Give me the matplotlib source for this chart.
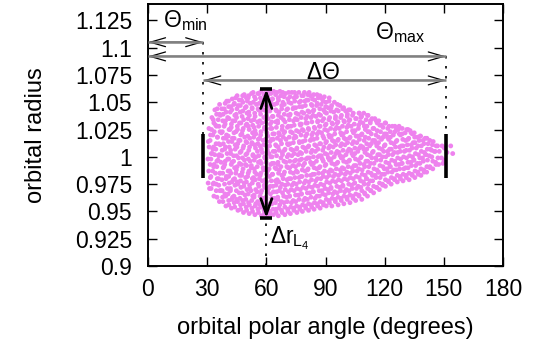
import numpy as np
import matplotlib
matplotlib.use("Agg")
import matplotlib.pyplot as plt
from matplotlib.ticker import FormatStrFormatter

plt.rcParams['font.family'] = 'Liberation Sans'
plt.rcParams['mathtext.fontset'] = 'custom'
plt.rcParams['mathtext.rm'] = 'Liberation Sans'
plt.rcParams['mathtext.it'] = 'Liberation Sans'
plt.rcParams['mathtext.bf'] = 'Liberation Sans:bold'

x_ticks = [0, 30, 60, 90, 120, 150, 180]
y_ticks = [0.9, 0.925, 0.95, 0.975, 1.0, 1.025, 1.05, 1.075, 1.1, 1.125]

# angular extent of the swarm and radial width at L4
theta_min = 28
theta_max = 151
theta_L4 = 60
r_L4_low = 0.944
r_L4_high = 1.062
bar_low = 0.981
bar_high = 1.021
arrow_min_y = 1.105
arrow_max_y = 1.092
arrow_delta_y = 1.070

# (polar angle in degrees, orbital radius)
swarm_a = [
    (31.2,0.971),(30.5,0.976),(31.9,0.982),(30.8,0.987),(31.5,0.993),(30.4,0.998),(32.1,1.003),(31.0,1.009),(30.6,1.014),(31.7,1.020),(30.9,1.026),
    (33.4,0.964),(34.6,0.969),(33.0,0.975),(35.1,0.980),(34.2,0.985),(33.3,0.991),(34.9,0.996),(33.8,1.002),(32.9,1.007),(34.5,1.012),(35.2,1.018),(33.6,1.023),(34.3,1.029),(33.1,1.034),(34.8,1.039),(33.9,1.043),
    (36.2,0.959),(37.8,0.963),(36.9,0.969),(35.9,0.974),(37.5,0.979),(36.4,0.985),(38.1,0.990),(37.0,0.995),(35.8,1.001),(37.6,1.006),(36.6,1.011),(38.2,1.017),(37.2,1.022),(36.0,1.028),(37.9,1.033),(36.7,1.038),(37.4,1.044),(36.3,1.048),
    (39.5,0.955),(40.9,0.960),(39.0,0.966),(40.3,0.971),(41.2,0.976),(39.7,0.982),(40.6,0.987),(38.9,0.993),(41.0,0.998),(40.1,1.003),(39.3,1.009),(40.8,1.014),(39.8,1.020),(41.1,1.025),(39.1,1.030),(40.4,1.036),(39.6,1.041),(40.9,1.046),(39.9,1.051),
    (42.3,0.953),(43.7,0.958),(42.9,0.963),(41.8,0.969),(44.1,0.974),(43.2,0.979),(42.0,0.985),(43.9,0.990),(42.6,0.995),(43.4,1.001),(41.9,1.006),(44.2,1.011),(42.8,1.017),(43.6,1.022),(42.2,1.027),(43.0,1.033),(44.0,1.038),(42.5,1.043),(43.5,1.048),(42.7,1.053),
    (45.6,0.951),(46.9,0.956),(44.9,0.961),(46.2,0.967),(47.1,0.972),(45.3,0.977),(46.5,0.983),(44.8,0.988),(47.2,0.993),(45.9,0.999),(46.7,1.004),(45.1,1.009),(46.0,1.015),(47.0,1.020),(45.4,1.025),(46.4,1.031),(44.9,1.036),(46.8,1.041),(45.7,1.047),(46.3,1.052),(45.2,1.056),
    (48.4,0.949),(49.8,0.954),(48.0,0.960),(49.2,0.965),(50.2,0.970),(48.7,0.976),(49.5,0.981),(47.8,0.986),(50.0,0.992),(48.9,0.997),(49.6,1.002),(48.2,1.008),(50.1,1.013),(49.0,1.018),(47.9,1.024),(49.7,1.029),(48.5,1.034),(50.2,1.040),(49.3,1.045),(48.1,1.050),(49.9,1.054),(48.8,1.057),
    (51.3,0.948),(52.7,0.953),(51.0,0.958),(53.1,0.964),(52.2,0.969),(51.5,0.974),(52.9,0.980),(50.8,0.985),(52.4,0.990),(51.8,0.996),(53.2,1.001),(51.1,1.006),(52.6,1.012),(51.6,1.017),(53.0,1.022),(50.9,1.028),(52.3,1.033),(51.4,1.038),(52.8,1.044),(51.9,1.049),(50.8,1.054),(52.5,1.058),
    (54.2,0.947),(55.8,0.952),(54.6,0.957),(53.8,0.963),(55.3,0.968),(56.2,0.973),(54.4,0.979),(55.1,0.984),(53.9,0.989),(56.0,0.995),(54.8,1.000),(55.5,1.005),(54.0,1.011),(55.9,1.016),(54.7,1.021),(53.8,1.027),(55.6,1.032),(54.3,1.037),(56.1,1.043),(55.0,1.048),(54.5,1.053),(55.7,1.058),
    (57.5,0.946),(58.9,0.951),(56.8,0.956),(58.3,0.962),(57.2,0.967),(59.1,0.972),(57.9,0.978),(56.9,0.983),(58.6,0.988),(57.4,0.994),(59.2,0.999),(58.0,1.004),(56.8,1.010),(58.4,1.015),(57.1,1.020),(59.0,1.026),(57.7,1.031),(58.7,1.036),(56.9,1.042),(58.2,1.047),(57.6,1.052),(58.8,1.057),(57.3,1.060),
    (60.3,0.946),(61.8,0.950),(60.9,0.955),(59.8,0.961),(62.1,0.966),(61.2,0.971),(60.0,0.977),(61.6,0.982),(60.6,0.987),(62.2,0.993),(59.9,0.998),(61.4,1.003),(60.4,1.009),(61.9,1.014),(60.8,1.019),(59.7,1.025),(62.0,1.030),(61.0,1.035),(60.2,1.041),(61.5,1.046),(62.2,1.051),(60.7,1.056),(61.3,1.060),
    (63.6,0.947),(64.9,0.952),(62.8,0.957),(64.2,0.962),(65.2,0.968),(63.3,0.973),(64.6,0.978),(63.0,0.984),(65.0,0.989),(63.8,0.994),(62.9,1.000),(64.4,1.005),(65.1,1.010),(63.5,1.016),(64.0,1.021),(62.8,1.026),(64.8,1.032),(63.4,1.037),(65.2,1.042),(64.1,1.048),(63.1,1.053),(64.7,1.057),(63.7,1.060),
    (66.1,0.946),(67.7,0.951),(66.8,0.956),(65.8,0.961),(68.2,0.967),(67.1,0.972),(66.3,0.977),(67.9,0.983),(66.6,0.988),(65.9,0.993),(67.4,0.999),(68.1,1.004),(66.0,1.009),(67.2,1.015),(66.7,1.020),(68.0,1.025),(65.8,1.031),(67.5,1.036),(66.4,1.041),(67.8,1.047),(66.2,1.052),(67.3,1.056),(66.9,1.060),
    (69.4,0.947),(70.8,0.952),(69.0,0.958),(70.2,0.963),(71.2,0.968),(69.6,0.974),(70.5,0.979),(68.8,0.984),(71.0,0.990),(69.9,0.995),(70.6,1.000),(69.2,1.006),(71.1,1.011),(70.0,1.016),(68.9,1.022),(70.7,1.027),(69.5,1.032),(71.2,1.038),(70.3,1.043),(69.1,1.048),(70.9,1.053),(69.7,1.058),
    (72.2,0.948),(73.9,0.953),(72.7,0.958),(71.8,0.964),(74.1,0.969),(73.0,0.974),(72.4,0.980),(73.7,0.985),(71.9,0.990),(74.2,0.996),(72.9,1.001),(73.4,1.006),(72.0,1.012),(74.0,1.017),(73.2,1.022),(72.5,1.028),(73.8,1.033),(71.8,1.038),(73.5,1.044),(72.6,1.049),(74.1,1.054),(72.9,1.059),
    (75.5,0.949),(76.9,0.954),(74.9,0.959),(76.3,0.965),(77.2,0.970),(75.2,0.975),(76.6,0.981),(75.8,0.986),(74.8,0.991),(77.0,0.997),(76.1,1.002),(75.4,1.007),(76.8,1.013),(75.0,1.018),(76.4,1.023),(77.3,1.029),(75.7,1.034),(76.2,1.039),(74.9,1.045),(76.7,1.050),(75.3,1.055),(76.5,1.059),
    (78.3,0.950),(79.8,0.955),(78.9,0.960),(77.8,0.966),(80.1,0.971),(79.2,0.976),(78.1,0.982),(79.6,0.987),(78.6,0.992),(80.2,0.998),(77.9,1.003),(79.4,1.008),(78.4,1.014),(79.9,1.019),(78.8,1.024),(77.7,1.030),(80.0,1.035),(79.0,1.040),(78.2,1.046),(79.5,1.051),(78.7,1.056),(79.3,1.059),
    (81.4,0.951),(82.8,0.956),(80.8,0.961),(82.1,0.967),(83.2,0.972),(81.6,0.977),(82.5,0.983),(80.9,0.988),(83.0,0.993),(81.9,0.999),(82.7,1.004),(81.1,1.009),(82.3,1.015),(83.1,1.020),(81.5,1.025),(80.8,1.031),(82.6,1.036),(81.8,1.041),(83.2,1.047),(81.2,1.052),(82.4,1.056),(81.7,1.059),
    (84.2,0.952),(85.9,0.957),(84.7,0.962),(83.8,0.968),(86.1,0.973),(85.0,0.978),(84.4,0.984),(85.6,0.989),(83.9,0.994),(86.2,1.000),(84.9,1.005),(85.3,1.010),(84.0,1.016),(85.8,1.021),(84.6,1.026),(86.0,1.032),(85.2,1.037),(83.8,1.042),(85.5,1.047),(84.5,1.052),(85.7,1.057),
    (87.3,0.953),(88.8,0.958),(86.9,0.964),(88.2,0.969),(89.1,0.974),(87.6,0.980),(88.5,0.985),(86.8,0.990),(88.9,0.996),(87.9,1.001),(88.6,1.006),(87.1,1.012),(89.2,1.017),(88.0,1.022),(86.9,1.028),(88.4,1.033),(87.5,1.038),(89.0,1.043),(87.8,1.048),(88.3,1.053),(87.2,1.056),
    (90.4,0.955),(91.8,0.960),(89.9,0.965),(91.2,0.970),(92.2,0.976),(90.6,0.981),(91.5,0.986),(89.8,0.992),(92.0,0.997),(90.9,1.002),(91.6,1.008),(90.1,1.013),(92.1,1.018),(91.0,1.024),(89.9,1.029),(91.7,1.034),(90.5,1.040),(91.3,1.045),(90.2,1.050),(91.9,1.054),
    (93.2,0.955),(94.9,0.961),(93.7,0.966),(92.8,0.971),(95.1,0.977),(94.0,0.982),(93.4,0.987),(94.6,0.993),(92.9,0.998),(95.2,1.003),(93.9,1.009),(94.3,1.014),(93.0,1.019),(94.8,1.025),(93.6,1.030),(95.0,1.035),(94.2,1.041),(92.8,1.045),(94.5,1.050),
    (96.4,0.956),(97.8,0.962),(95.9,0.967),(97.2,0.972),(98.1,0.978),(96.6,0.983),(97.5,0.988),(95.8,0.994),(98.0,0.999),(96.9,1.004),(97.6,1.010),(96.1,1.015),(98.2,1.020),(97.0,1.026),(95.9,1.031),(97.7,1.036),(96.5,1.042),(97.3,1.047),
    (99.3,0.957),(100.9,0.963),(99.7,0.968),(98.8,0.973),(101.1,0.979),(100.0,0.984),(99.4,0.989),(100.6,0.995),(98.9,1.000),(101.2,1.005),(99.9,1.011),(100.3,1.016),(99.0,1.021),(100.8,1.027),(99.6,1.032),(101.0,1.037),(100.2,1.042),(99.2,1.045),
    (102.4,0.958),(103.8,0.964),(101.9,0.969),(103.2,0.974),(104.1,0.980),(102.6,0.985),(103.5,0.990),(101.8,0.996),(104.0,1.001),(102.9,1.006),(103.6,1.012),(102.1,1.017),(104.2,1.022),(103.0,1.028),(101.9,1.033),(103.7,1.038),(102.5,1.043),
    (105.3,0.960),(106.9,0.965),(105.7,0.971),(104.8,0.976),(107.1,0.981),(106.0,0.987),(105.4,0.992),(106.6,0.997),(104.9,1.003),(107.2,1.008),(105.9,1.013),(106.3,1.019),(105.0,1.024),(106.8,1.029),(105.6,1.035),(107.0,1.040),
    (108.4,0.961),(109.8,0.967),(107.9,0.972),(109.2,0.977),(110.1,0.983),(108.6,0.988),(109.5,0.993),(107.8,0.999),(110.0,1.004),(108.9,1.009),(109.6,1.015),(108.1,1.020),(110.2,1.025),(109.0,1.031),(107.9,1.036),(109.4,1.040),
    (111.3,0.964),(112.9,0.969),(111.7,0.975),(110.8,0.980),(113.1,0.985),(112.0,0.991),(111.4,0.996),(112.6,1.001),(110.9,1.007),(113.2,1.012),(111.9,1.017),(112.3,1.023),(111.0,1.028),(112.8,1.033),(111.6,1.038),
    (114.4,0.967),(115.8,0.972),(113.9,0.978),(115.2,0.983),(116.1,0.988),(114.6,0.994),(115.5,0.999),(113.8,1.004),(116.0,1.010),(114.9,1.015),(115.6,1.020),(114.1,1.026),(116.2,1.031),(115.0,1.035),
    (117.3,0.970),(118.9,0.975),(117.7,0.981),(116.8,0.986),(119.1,0.991),(118.0,0.997),(117.4,1.002),(118.6,1.007),(116.9,1.013),(119.2,1.018),(117.9,1.023),(118.3,1.029),(117.0,1.033),
    (120.4,0.973),(121.8,0.978),(119.9,0.984),(121.2,0.989),(122.1,0.994),(120.6,1.000),(121.5,1.005),(119.8,1.010),(122.0,1.016),(120.9,1.021),(121.6,1.026),(120.2,1.031),
    (123.3,0.975),(124.9,0.980),(123.7,0.986),(122.8,0.991),(125.1,0.996),(124.0,1.002),(123.4,1.007),(124.6,1.012),(122.9,1.018),(125.2,1.023),(123.9,1.028),
    (126.4,0.977),(127.8,0.982),(125.9,0.988),(127.2,0.993),(128.1,0.998),(126.6,1.004),(127.5,1.009),(125.8,1.014),(128.0,1.020),(126.9,1.025),(127.3,1.028),
    (129.3,0.978),(130.9,0.983),(129.7,0.989),(128.8,0.994),(131.1,0.999),(130.0,1.005),(129.4,1.010),(130.6,1.015),(128.9,1.021),(131.2,1.025),
    (132.4,0.979),(133.8,0.984),(131.9,0.990),(133.2,0.995),(134.1,1.000),(132.6,1.006),(133.5,1.011),(131.8,1.016),(134.0,1.021),(132.9,1.024),
    (135.3,0.981),(136.9,0.986),(135.7,0.992),(134.8,0.997),(137.1,1.002),(136.0,1.008),(135.4,1.013),(136.6,1.018),(135.0,1.022),
    (138.4,0.983),(139.8,0.988),(137.9,0.994),(139.2,0.999),(140.1,1.004),(138.6,1.010),(139.5,1.015),(138.0,1.019),
    (141.3,0.986),(142.9,0.991),(141.7,0.997),(140.8,1.002),(143.1,1.007),(142.0,1.012),(141.4,1.017),
    (144.4,0.989),(145.8,0.995),(143.9,1.000),(145.2,1.005),(146.1,1.010),(144.6,1.014),
    (147.3,0.993),(148.8,0.999),(147.7,1.005),(149.1,1.010),
    (150.2,0.997),(151.6,1.004),
    (154.5,1.003),(153.5,1.010),
]

# second pass of points, sitting between the rows of the first
swarm_b = [
    (32.0,0.971),(33.3,0.976),(31.6,0.981),(32.8,0.987),(33.5,0.993),(31.9,0.998),(32.6,1.003),(33.2,1.009),(31.5,1.015),(32.9,1.020),(32.2,1.025),(33.4,1.031),(32.4,1.036),
    (35.0,0.963),(36.4,0.969),(34.6,0.975),(35.8,0.980),(36.6,0.985),(34.9,0.991),(35.5,0.997),(36.2,1.002),(34.4,1.007),(35.9,1.012),(35.2,1.018),(36.5,1.023),(34.7,1.028),(35.6,1.034),(36.3,1.039),(35.1,1.044),
    (38.0,0.959),(39.4,0.964),(37.6,0.969),(38.8,0.975),(39.6,0.980),(37.9,0.985),(38.5,0.991),(39.2,0.996),(37.4,1.001),(38.9,1.007),(38.2,1.012),(39.5,1.017),(37.7,1.023),(38.6,1.028),(39.3,1.033),(38.1,1.039),(38.7,1.044),(39.1,1.049),
    (41.0,0.956),(42.4,0.961),(40.6,0.966),(41.8,0.971),(42.6,0.977),(40.9,0.982),(41.5,0.987),(42.2,0.993),(40.4,0.998),(41.9,1.003),(41.2,1.009),(42.5,1.014),(40.7,1.019),(41.6,1.025),(42.3,1.030),(41.1,1.035),(41.7,1.041),(42.1,1.046),(40.8,1.051),
    (44.0,0.954),(45.4,0.959),(43.6,0.964),(44.8,0.969),(45.6,0.975),(43.9,0.980),(44.5,0.985),(45.2,0.991),(43.4,0.996),(44.9,1.001),(44.2,1.007),(45.5,1.012),(43.7,1.017),(44.6,1.023),(45.3,1.028),(44.1,1.033),(44.7,1.039),(45.1,1.044),(43.8,1.049),(44.4,1.054),
    (47.0,0.952),(48.4,0.957),(46.6,0.962),(47.8,0.967),(48.6,0.973),(46.9,0.978),(47.5,0.983),(48.2,0.989),(46.4,0.994),(47.9,0.999),(47.2,1.005),(48.5,1.010),(46.7,1.015),(47.6,1.021),(48.3,1.026),(47.1,1.031),(47.7,1.037),(48.1,1.042),(46.8,1.047),(47.4,1.052),(48.0,1.056),
    (50.0,0.951),(51.4,0.956),(49.6,0.961),(50.8,0.966),(51.6,0.971),(49.9,0.977),(50.5,0.982),(51.2,0.987),(49.4,0.993),(50.9,0.998),(50.2,1.003),(51.5,1.009),(49.7,1.014),(50.6,1.019),(51.3,1.025),(50.1,1.030),(50.7,1.035),(51.1,1.041),(49.8,1.046),(50.4,1.051),(51.0,1.056),
    (53.0,0.950),(54.4,0.955),(52.6,0.960),(53.8,0.965),(54.6,0.970),(52.9,0.976),(53.5,0.981),(54.2,0.986),(52.4,0.992),(53.9,0.997),(53.2,1.002),(54.5,1.008),(52.7,1.013),(53.6,1.018),(54.3,1.024),(53.1,1.029),(53.7,1.034),(54.1,1.040),(52.8,1.045),(53.4,1.050),(54.0,1.055),(53.3,1.059),
    (56.0,0.949),(57.4,0.954),(55.6,0.959),(56.8,0.964),(57.6,0.969),(55.9,0.975),(56.5,0.980),(57.2,0.985),(55.4,0.991),(56.9,0.996),(56.2,1.001),(57.5,1.007),(55.7,1.012),(56.6,1.017),(57.3,1.023),(56.1,1.028),(56.7,1.033),(57.1,1.039),(55.8,1.044),(56.4,1.049),(57.0,1.054),(56.3,1.058),
    (59.0,0.948),(60.4,0.953),(58.6,0.958),(59.8,0.963),(60.6,0.968),(58.9,0.974),(59.5,0.979),(60.2,0.984),(58.4,0.990),(59.9,0.995),(59.2,1.000),(60.5,1.006),(58.7,1.011),(59.6,1.016),(60.3,1.022),(59.1,1.027),(59.7,1.032),(60.1,1.038),(58.8,1.043),(59.4,1.048),(60.0,1.053),(59.3,1.058),
    (62.0,0.948),(63.4,0.952),(61.6,0.957),(62.8,0.962),(63.6,0.968),(61.9,0.973),(62.5,0.978),(63.2,0.984),(61.4,0.989),(62.9,0.994),(62.2,1.000),(63.5,1.005),(61.7,1.010),(62.6,1.016),(63.3,1.021),(62.1,1.026),(62.7,1.032),(63.1,1.037),(61.8,1.042),(62.4,1.048),(63.0,1.053),(62.3,1.058),
    (65.0,0.949),(66.4,0.953),(64.6,0.958),(65.8,0.963),(66.6,0.969),(64.9,0.974),(65.5,0.979),(66.2,0.985),(64.4,0.990),(65.9,0.995),(65.2,1.001),(66.5,1.006),(64.7,1.011),(65.6,1.017),(66.3,1.022),(65.1,1.027),(65.7,1.033),(66.1,1.038),(64.8,1.043),(65.4,1.049),(66.0,1.054),(65.3,1.059),
    (68.0,0.949),(69.4,0.954),(67.6,0.959),(68.8,0.964),(69.6,0.970),(67.9,0.975),(68.5,0.980),(69.2,0.986),(67.4,0.991),(68.9,0.996),(68.2,1.002),(69.5,1.007),(67.7,1.012),(68.6,1.018),(69.3,1.023),(68.1,1.028),(68.7,1.034),(69.1,1.039),(67.8,1.044),(68.4,1.050),(69.0,1.055),(68.3,1.059),
    (71.0,0.950),(72.4,0.954),(70.6,0.959),(71.8,0.964),(72.6,0.970),(70.9,0.975),(71.5,0.980),(72.2,0.986),(70.4,0.991),(71.9,0.996),(71.2,1.002),(72.5,1.007),(70.7,1.012),(71.6,1.018),(72.3,1.023),(71.1,1.028),(71.7,1.034),(72.1,1.039),(70.8,1.044),(71.4,1.050),(72.0,1.055),(71.3,1.059),
    (74.0,0.951),(75.4,0.955),(73.6,0.960),(74.8,0.965),(75.6,0.971),(73.9,0.976),(74.5,0.981),(75.2,0.987),(73.4,0.992),(74.9,0.997),(74.2,1.003),(75.5,1.008),(73.7,1.013),(74.6,1.019),(75.3,1.024),(74.1,1.029),(74.7,1.035),(75.1,1.040),(73.8,1.045),(74.4,1.051),(75.0,1.056),(74.3,1.059),
    (77.0,0.952),(78.4,0.956),(76.6,0.961),(77.8,0.966),(78.6,0.972),(76.9,0.977),(77.5,0.982),(78.2,0.988),(76.4,0.993),(77.9,0.998),(77.2,1.004),(78.5,1.009),(76.7,1.014),(77.6,1.020),(78.3,1.025),(77.1,1.030),(77.7,1.036),(78.1,1.041),(76.8,1.046),(77.4,1.051),(78.0,1.056),
    (80.0,0.953),(81.4,0.957),(79.6,0.962),(80.8,0.967),(81.6,0.973),(79.9,0.978),(80.5,0.983),(81.2,0.989),(79.4,0.994),(80.9,0.999),(80.2,1.005),(81.5,1.010),(79.7,1.015),(80.6,1.021),(81.3,1.026),(80.1,1.031),(80.7,1.037),(81.1,1.042),(79.8,1.047),(80.4,1.052),(81.0,1.057),
    (83.0,0.954),(84.4,0.958),(82.6,0.963),(83.8,0.968),(84.6,0.974),(82.9,0.979),(83.5,0.984),(84.2,0.990),(82.4,0.995),(83.9,1.000),(83.2,1.006),(84.5,1.011),(82.7,1.016),(83.6,1.022),(84.3,1.027),(83.1,1.032),(83.7,1.038),(84.1,1.043),(82.8,1.048),(83.4,1.053),(84.0,1.057),
    (86.0,0.955),(87.4,0.959),(85.6,0.964),(86.8,0.969),(87.6,0.975),(85.9,0.980),(86.5,0.985),(87.2,0.991),(85.4,0.996),(86.9,1.001),(86.2,1.007),(87.5,1.012),(85.7,1.017),(86.6,1.023),(87.3,1.028),(86.1,1.033),(86.7,1.039),(87.1,1.044),(85.8,1.049),(86.4,1.054),
    (89.0,0.956),(90.4,0.961),(88.6,0.966),(89.8,0.971),(90.6,0.977),(88.9,0.982),(89.5,0.987),(90.2,0.993),(88.4,0.998),(89.9,1.003),(89.2,1.009),(90.5,1.014),(88.7,1.019),(89.6,1.025),(90.3,1.030),(89.1,1.035),(89.7,1.041),(90.1,1.046),(88.8,1.051),(89.4,1.055),
    (92.0,0.958),(93.4,0.962),(91.6,0.967),(92.8,0.972),(93.6,0.978),(91.9,0.983),(92.5,0.988),(93.2,0.994),(91.4,0.999),(92.9,1.004),(92.2,1.010),(93.5,1.015),(91.7,1.020),(92.6,1.026),(93.3,1.031),(92.1,1.036),(92.7,1.042),(93.1,1.047),(91.8,1.051),
    (95.0,0.959),(96.4,0.963),(94.6,0.968),(95.8,0.973),(96.6,0.979),(94.9,0.984),(95.5,0.989),(96.2,0.995),(94.4,1.000),(95.9,1.005),(95.2,1.011),(96.5,1.016),(94.7,1.021),(95.6,1.027),(96.3,1.032),(95.1,1.037),(95.7,1.043),(96.1,1.048),
    (98.0,0.960),(99.4,0.964),(97.6,0.969),(98.8,0.974),(99.6,0.980),(97.9,0.985),(98.5,0.990),(99.2,0.996),(97.4,1.001),(98.9,1.006),(98.2,1.012),(99.5,1.017),(97.7,1.022),(98.6,1.028),(99.3,1.033),(98.1,1.038),(98.7,1.044),
    (101.0,0.961),(102.4,0.965),(100.6,0.970),(101.8,0.975),(102.6,0.981),(100.9,0.986),(101.5,0.991),(102.2,0.997),(100.4,1.002),(101.9,1.007),(101.2,1.013),(102.5,1.018),(100.7,1.023),(101.6,1.029),(102.3,1.034),(101.1,1.039),(101.7,1.043),
    (104.0,0.962),(105.4,0.966),(103.6,0.971),(104.8,0.976),(105.6,0.982),(103.9,0.987),(104.5,0.992),(105.2,0.998),(103.4,1.003),(104.9,1.008),(104.2,1.014),(105.5,1.019),(103.7,1.024),(104.6,1.030),(105.3,1.035),(104.1,1.040),
    (107.0,0.964),(108.4,0.969),(106.6,0.973),(107.8,0.978),(108.6,0.984),(106.9,0.989),(107.5,0.994),(108.2,1.000),(106.4,1.005),(107.9,1.010),(107.2,1.016),(108.5,1.021),(106.7,1.026),(107.6,1.032),(108.3,1.037),(107.1,1.040),
    (110.0,0.966),(111.4,0.971),(109.6,0.975),(110.8,0.980),(111.6,0.986),(109.9,0.991),(110.5,0.996),(111.2,1.002),(109.4,1.007),(110.9,1.012),(110.2,1.018),(111.5,1.023),(109.7,1.028),(110.6,1.034),(111.3,1.038),
    (113.0,0.969),(114.4,0.973),(112.6,0.978),(113.8,0.983),(114.6,0.989),(112.9,0.994),(113.5,0.999),(114.2,1.005),(112.4,1.010),(113.9,1.015),(113.2,1.021),(114.5,1.026),(112.7,1.031),(113.6,1.035),
    (116.0,0.972),(117.4,0.976),(115.6,0.981),(116.8,0.986),(117.6,0.992),(115.9,0.997),(116.5,1.002),(117.2,1.008),(115.4,1.013),(116.9,1.018),(116.2,1.024),(117.5,1.029),(115.7,1.033),
    (119.0,0.974),(120.4,0.979),(118.6,0.984),(119.8,0.989),(120.6,0.995),(118.9,1.000),(119.5,1.005),(120.2,1.011),(118.4,1.016),(119.9,1.021),(119.2,1.027),(120.5,1.031),
    (122.0,0.977),(123.4,0.981),(121.6,0.986),(122.8,0.991),(123.6,0.997),(121.9,1.002),(122.5,1.007),(123.2,1.013),(121.4,1.018),(122.9,1.023),(122.2,1.028),
    (125.0,0.979),(126.4,0.983),(124.6,0.988),(125.8,0.993),(126.6,0.999),(124.9,1.004),(125.5,1.009),(126.2,1.015),(124.4,1.020),(125.9,1.025),(125.2,1.028),
    (128.0,0.980),(129.4,0.984),(127.6,0.989),(128.8,0.994),(129.6,1.000),(127.9,1.005),(128.5,1.010),(129.2,1.016),(127.4,1.021),(128.9,1.026),
    (131.0,0.981),(132.4,0.985),(130.6,0.990),(131.8,0.995),(132.6,1.001),(130.9,1.006),(131.5,1.011),(132.2,1.017),(130.4,1.022),(131.9,1.025),
    (134.0,0.983),(135.4,0.987),(133.6,0.992),(134.8,0.997),(135.6,1.003),(133.9,1.008),(134.5,1.013),(135.2,1.018),(133.4,1.022),
    (137.0,0.984),(138.4,0.989),(136.6,0.994),(137.8,0.999),(138.6,1.005),(136.9,1.010),(137.5,1.015),(138.2,1.019),
    (140.0,0.986),(141.4,0.991),(139.6,0.996),(140.8,1.002),(141.6,1.007),(139.9,1.012),(140.5,1.017),
    (143.0,0.990),(144.4,0.996),(142.6,1.001),(143.8,1.006),(144.2,1.011),(142.9,1.015),
    (146.0,0.993),(147.0,0.999),(145.6,1.005),(146.8,1.010),
    (149.5,0.994),(150.3,1.008),
]

fig = plt.figure(figsize=(5.44, 3.45), dpi=100)
ax = fig.add_axes([148/544, 79/345, 355/544, 262/345])

th, r = np.array(swarm_a + swarm_b).T
ax.scatter(th, r, s=12, color='violet', edgecolors='none', zorder=1)


def open_arrow(x0, x1, y):
    # thin black V heads with a gray shaft
    ax.annotate('', xy=(x1, y), xytext=(x0, y),
                arrowprops=dict(arrowstyle='<->,head_length=11,head_width=3.2',
                                mutation_scale=1, color='black', lw=0.9,
                                shrinkA=0, shrinkB=0), zorder=3)
    ax.plot([x0, x1], [y, y], color='gray', lw=1.8, zorder=4,
            solid_capstyle='butt')


open_arrow(x_ticks[0], theta_min, arrow_min_y)
open_arrow(x_ticks[0], theta_max, arrow_max_y)
open_arrow(theta_min, theta_max, arrow_delta_y)

dots = (0, (1.5, 4.5))
ax.plot([theta_min, theta_min], [arrow_min_y, bar_high], color='black', lw=1.2, ls=dots, zorder=3)
ax.plot([theta_max, theta_max], [arrow_max_y, bar_high], color='black', lw=1.2, ls=dots, zorder=3)
ax.plot([theta_L4, theta_L4], [y_ticks[0], r_L4_low], color='black', lw=1.2, ls=dots, zorder=3)

ax.vlines([theta_min, theta_max], bar_low, bar_high, color='black', lw=2.6, zorder=3)

# radial width at L4
ax.annotate('', xy=(theta_L4, r_L4_high), xytext=(theta_L4, r_L4_low),
            arrowprops=dict(arrowstyle='<->,head_length=11,head_width=4',
                            mutation_scale=1, color='black', lw=2,
                            shrinkA=0, shrinkB=0), zorder=5)
ax.plot([theta_L4, theta_L4], [r_L4_low, r_L4_high], ls='none', marker='_',
        ms=9, mew=2.6, color='black', zorder=5)

fs = 16.5
ax.text(7.6, 1.1189, r'$\Theta_{\rm min}$', fontsize=fs, ha='left', va='baseline')
ax.text(115.1, 1.1076, r'$\Theta_{\rm max}$', fontsize=fs, ha='left', va='baseline')
ax.text(80.1, 1.0715, r'$\Delta\Theta$', fontsize=fs, ha='left', va='baseline')
ax.text(61.9, 0.9208, r'$\Delta r_{L_4}$', fontsize=fs, ha='left', va='baseline')

ax.set_xlim(0, 180)
ax.set_ylim(0.9, 1.14)
ax.set_xticks(x_ticks)
ax.set_yticks(y_ticks)
ax.yaxis.set_major_formatter(FormatStrFormatter('%g'))
ax.tick_params(direction='in', length=6.5, width=1, top=True, right=True,
               labelsize=fs)
ax.tick_params(axis='x', pad=9)
ax.tick_params(axis='y', pad=11.5)
for s in ax.spines.values():
    s.set_linewidth(1.4)

ax.set_xlabel('orbital polar angle (degrees)', fontsize=17, labelpad=11)
ax.set_ylabel('orbital radius', fontsize=17, labelpad=20)

fig.savefig('out.png', dpi=100)
